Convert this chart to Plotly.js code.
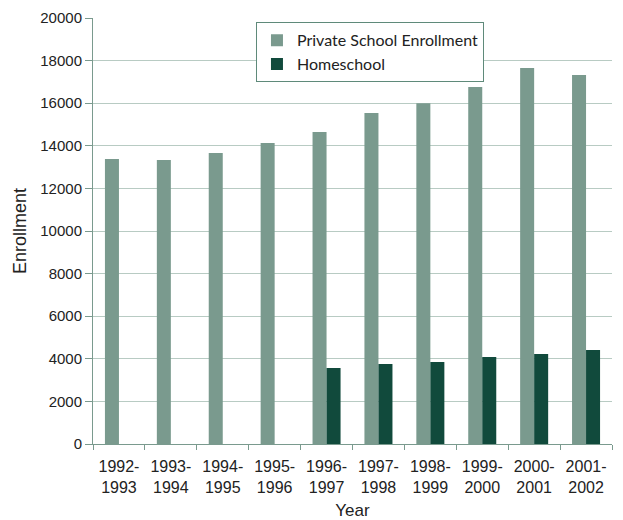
<!DOCTYPE html>
<html>
<head>
<meta charset="utf-8">
<script src="https://cdn.plot.ly/plotly-3.0.1.min.js"></script>
<style>html,body{margin:0;padding:0;background:#fff;}#chart{width:623px;height:520px;}</style>
</head>
<body>
<div id="chart"></div>
<script>
var years = ["1992-<br>1993","1993-<br>1994","1994-<br>1995","1995-<br>1996","1996-<br>1997","1997-<br>1998","1998-<br>1999","1999-<br>2000","2000-<br>2001","2001-<br>2002"];
var privateSchool = [13380, 13330, 13660, 14130, 14650, 15540, 16000, 16760, 17650, 17320];
var homeschool = [null, null, null, null, 3570, 3760, 3850, 4090, 4230, 4410];
var yTicks = [0, 2000, 4000, 6000, 8000, 10000, 12000, 14000, 16000, 18000, 20000];

var data = [
  {type: "bar", x: years, y: privateSchool, name: "Private School Enrollment",
   marker: {color: "#7a9a8e"}},
  {type: "bar", x: years, y: homeschool, name: "Homeschool",
   marker: {color: "#114a3c"}}
];

var baseFont = "'Liberation Sans', Arial, sans-serif";

var layout = {
  width: 623, height: 520,
  margin: {l: 93, r: 11, t: 18, b: 76},
  paper_bgcolor: "#fff", plot_bgcolor: "#fff",
  barmode: "group", bargap: 0.46, bargroupgap: 0,
  font: {family: baseFont, size: 15, color: "#222"},
  showlegend: true,
  legend: {x: 0.314, y: 0.99, xanchor: "left", yanchor: "top",
           bgcolor: "#fff", bordercolor: "#5f8a7a", borderwidth: 1,
           font: {family: "Lato, sans-serif", size: 16, color: "#222"},
           tracegroupgap: 0, itemwidth: 30},
  xaxis: {type: "category", showline: true, linecolor: "#7a9a8e", linewidth: 1,
          ticks: "outside", tickson: "boundaries", ticklen: 5, tickcolor: "#7a9a8e",
          showgrid: false, ticklabelstandoff: 8,
          title: {text: "Year", font: {family: baseFont, size: 17}, standoff: 11},
          tickfont: {family: baseFont, size: 16}},
  yaxis: {range: [0, 20000], tickvals: yTicks, ticktext: yTicks.map(String),
          showline: true, linecolor: "#7a9a8e", linewidth: 1,
          ticks: "outside", ticklen: 7, tickcolor: "#7a9a8e",
          gridcolor: "#b8cbc3", gridwidth: 1, zeroline: false,
          title: {text: "Enrollment", font: {family: baseFont, size: 18}, standoff: 8},
          tickfont: {family: baseFont, size: 15}}
};

Plotly.newPlot("chart", data, layout, {displayModeBar: false, staticPlot: true});
</script>
</body>
</html>
